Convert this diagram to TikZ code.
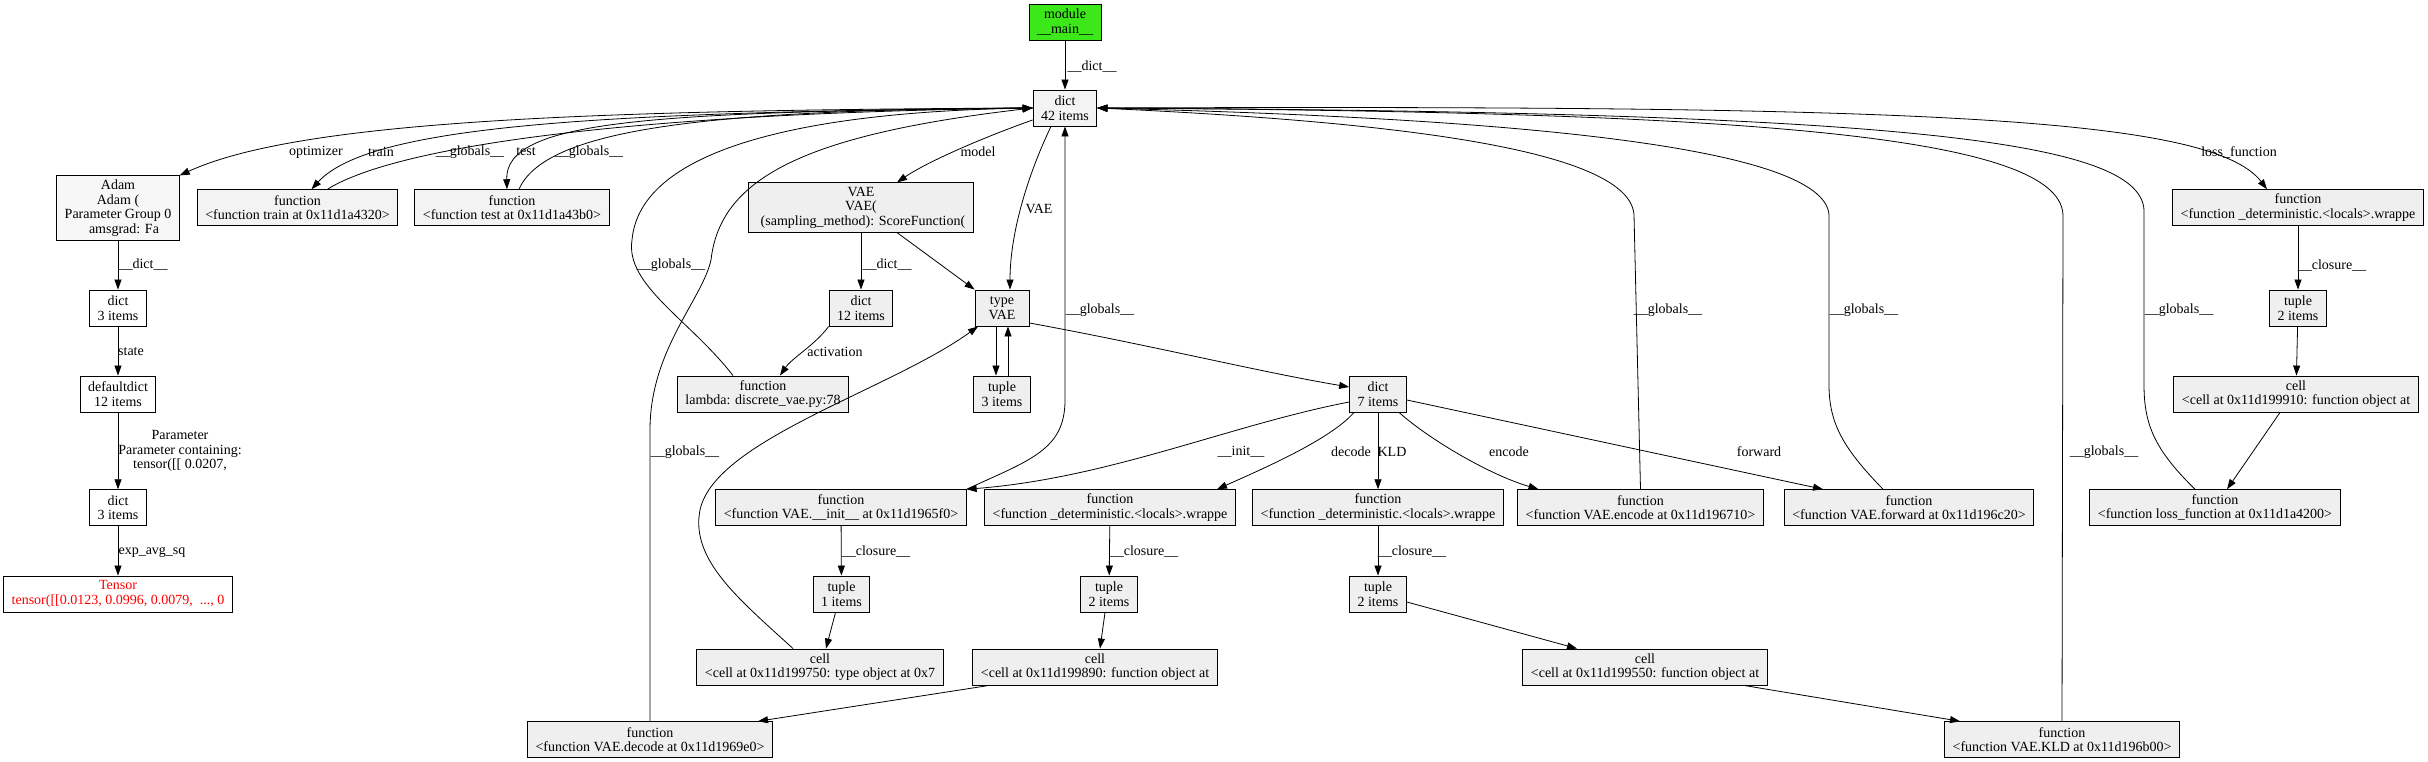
\documentclass[tikz,border=0pt]{standalone}
\usepackage{fontspec}
\setmainfont{Liberation Serif}
\usetikzlibrary{arrows.meta}
\definecolor{gvgreen}{HTML}{3DE81A}
\definecolor{gvred}{HTML}{FF0000}
\definecolor{gvfillA}{HTML}{F7F7F7}
\definecolor{gvfillB}{HTML}{F3F3F3}
\definecolor{gvfillC}{HTML}{EFEFEF}
\newcommand{\gvfont}{\fontsize{14}{14.5}\selectfont}

\begin{document}
\begin{tikzpicture}[x=1pt,y=-1pt,
  obj/.style={draw,line width=0.9pt,fill=gvfillC,font=\gvfont,align=center,
              inner xsep=8pt,inner ysep=4pt,minimum height=36pt,minimum width=54pt},
  lbl/.style={font=\gvfont,align=center,inner sep=1pt},
  gvedge/.style={-{Triangle[length=10pt,width=7pt]},line width=0.8pt}
]
\path[use as bounding box,fill=white] (0,0) rectangle (2428,762);

% ---- Root ---------------------------------------------------
\node[obj,fill=gvgreen] (mainmod) at (1065,22)  {module\\\_\_main\_\_};
\node[obj,fill=gvfillB] (gdict)   at (1065,108) {dict\\42 items};

% ---- Optimizer chain ----------------------------------------
\node[obj,fill=gvfillA] (adam)      at (118,208)   {Adam\\Adam (\\Parameter Group 0\\\hspace*{12pt}amsgrad: Fa};
\node[obj,fill=white]   (adamdict)  at (118,308)   {dict\\3 items};
\node[obj,fill=white]   (statedict) at (118,394)   {defaultdict\\12 items};
\node[obj,fill=white]   (paramdict) at (118,507.7) {dict\\3 items};
\node[obj,fill=white,text=gvred] (sqtensor) at (118,594) {Tensor\\tensor([[0.0123, 0.0996, 0.0079,~ ..., 0};

% ---- Top row ------------------------------------------------
\node[obj,fill=gvfillB] (trainfn)  at (297.5,207.7) {function\\<function train at 0x11d1a4320>};
\node[obj,fill=gvfillB] (testfn)   at (512,207.7)   {function\\<function test at 0x11d1a43b0>};
\node[obj]              (vaeobj)   at (861,207.5)   {VAE\\VAE(\\\hspace*{4pt}(sampling\_method): ScoreFunction(};
\node[obj]              (losswrap) at (2298,207.7)  {function\\<function \_deterministic.<locals>.wrappe};

% ---- Second row ---------------------------------------------
\node[obj] (vaedict)   at (861,308)  {dict\\12 items};
\node[obj] (vaetype)   at (1002,308) {type\\VAE};
\node[obj] (lambdafn)  at (763,394)  {function\\lambda: discrete\_vae.py:78};
\node[obj] (vaetuple)  at (1002,394) {tuple\\3 items};
\node[obj] (clsdict)   at (1378,394) {dict\\7 items};
\node[obj] (losstuple) at (2298,308) {tuple\\2 items};
\node[obj] (losscell)  at (2296,394) {cell\\<cell at 0x11d199910: function object at};

% ---- Method row ---------------------------------------------
\node[obj] (initfn)    at (841,507.7)    {function\\<function VAE.\_\_init\_\_ at 0x11d1965f0>};
\node[obj] (decwrap)   at (1110,507.7)   {function\\<function \_deterministic.<locals>.wrappe};
\node[obj] (kldwrap)   at (1378,507.7)   {function\\<function \_deterministic.<locals>.wrappe};
\node[obj] (encodefn)  at (1640.5,507.7) {function\\<function VAE.encode at 0x11d196710>};
\node[obj] (forwardfn) at (1909,507.7)   {function\\<function VAE.forward at 0x11d196c20>};
\node[obj] (lossfn)    at (2215,507.7)   {function\\<function loss\_function at 0x11d1a4200>};

% ---- Closures -----------------------------------------------
\node[obj] (inittuple) at (841.5,594) {tuple\\1 items};
\node[obj] (dectuple)  at (1109,594)  {tuple\\2 items};
\node[obj] (kldtuple)  at (1378,594)  {tuple\\2 items};
\node[obj] (initcell)  at (820,667)   {cell\\<cell at 0x11d199750: type object at 0x7};
\node[obj] (deccell)   at (1095,667)  {cell\\<cell at 0x11d199890: function object at};
\node[obj] (kldcell)   at (1645,667)  {cell\\<cell at 0x11d199550: function object at};
\node[obj] (decodefn)  at (650,739.7) {function\\<function VAE.decode at 0x11d1969e0>};
\node[obj] (kldfn)     at (2062,739.7) {function\\<function VAE.KLD at 0x11d196b00>};

% Root edge
\draw[gvedge] (mainmod) -- (gdict) node[lbl,at={(1092,67)}] {\_\_dict\_\_};

% Left bundle into the globals dict
\draw[gvedge] (gdict.west) .. controls (600,110) and (300,120) .. (adam.north east)
  node[lbl,at={(316,152)}] {optimizer};
\draw[gvedge] (gdict.west) .. controls (600,112) and (370,125) .. ([xshift=14pt]trainfn.north)
  node[lbl,at={(381,152)}] {train};
\draw[gvedge] ([xshift=30pt]trainfn.north) .. controls (390,150) and (600,114) .. (gdict.west)
  node[lbl,at={(470,152)}] {\_\_globals\_\_};
\draw[gvedge] (gdict.west) .. controls (650,112) and (505,120) .. ([xshift=-5pt]testfn.north)
  node[lbl,at={(526,152)}] {test};
\draw[gvedge] ([xshift=7pt]testfn.north) .. controls (545,130) and (700,110) .. (gdict.west)
  node[lbl,at={(589,152)}] {\_\_globals\_\_};
\draw[gvedge] ([xshift=-30pt]lambdafn.north) .. controls (690,320) and (625,285) .. (632,240)
  .. controls (640,150) and (800,112) .. (gdict.west)
  node[lbl,at={(671,265)}] {\_\_globals\_\_};
\draw[gvedge] (decodefn.north) -- (650,430) .. controls (650,350) and (702,300) .. (711,260)
  .. controls (720,180) and (800,135) .. (gdict.west)
  node[lbl,at={(685,452)}] {\_\_globals\_\_};
\draw[gvedge] ([yshift=-12pt]gdict.west) .. controls (990,135) and (930,160) .. ([xshift=36pt]vaeobj.north)
  node[lbl,at={(978,152)}] {model};
\draw[gvedge] ([xshift=-14pt]gdict.south) .. controls (1030,170) and (1010,230) .. ([xshift=8pt]vaetype.north)
  node[lbl,at={(1039,209)}] {VAE};
\draw[gvedge] (initfn.north east) .. controls (1030,460) and (1065,450) .. (1065,400) -- (gdict.south)
  node[lbl,at={(1100,310)}] {\_\_globals\_\_};

% Right bundle into the globals dict
\draw[gvedge] (encodefn.north) -- (1634,215) .. controls (1630,150) and (1400,122) .. (gdict.east)
  node[lbl,at={(1668,310)}] {\_\_globals\_\_};
\draw[gvedge] ([xshift=-26pt]forwardfn.north) .. controls (1845,450) and (1829,425) .. (1829,385)
  -- (1829,215) .. controls (1825,145) and (1500,118) .. (gdict.east)
  node[lbl,at={(1864,310)}] {\_\_globals\_\_};
\draw[gvedge] ([xshift=-20pt]lossfn.north) .. controls (2155,450) and (2144,425) .. (2144,385)
  -- (2144,210) .. controls (2140,140) and (1900,112) .. (gdict.east)
  node[lbl,at={(2179,310)}] {\_\_globals\_\_};
\draw[gvedge] (kldfn.north) -- (2063,215) .. controls (2060,130) and (1700,112) .. (gdict.east)
  node[lbl,at={(2104,452)}] {\_\_globals\_\_};
\draw[gvedge] (gdict.east) .. controls (1900,105) and (2210,115) .. ([xshift=-31pt]losswrap.north)
  node[lbl,at={(2239,152)}] {loss\_function};

% Model and its class
\draw[gvedge] (vaeobj) -- (vaedict) node[lbl,at={(887,265)}] {\_\_dict\_\_};
\draw[gvedge] ([xshift=36pt]vaeobj.south) -- (vaetype.north west);
\draw[gvedge] (vaedict.south west) .. controls (815,345) and (792,358) .. ([xshift=17pt]lambdafn.north)
  node[lbl,at={(835,352)}] {activation};
\draw[gvedge] ([xshift=-6pt]vaetype.south) -- ([xshift=-6pt]vaetuple.north);
\draw[gvedge] ([xshift=6pt]vaetuple.north) -- ([xshift=6pt]vaetype.south);
\draw[gvedge] ([yshift=-15pt]vaetype.east) .. controls (1150,345) and (1260,372) .. ([yshift=7pt]clsdict.west);

% Class dict to methods
\draw[gvedge] ([yshift=-8pt]clsdict.west) .. controls (1230,425) and (1110,478) .. (initfn.north east)
  node[lbl,at={(1241,452)}] {\_\_init\_\_};
\draw[gvedge] ([xshift=-24pt]clsdict.south) .. controls (1330,440) and (1260,470) .. ([xshift=107pt]decwrap.north)
  node[lbl,at={(1351,452)}] {decode};
\draw[gvedge] (clsdict) -- (kldwrap) node[lbl,at={(1392,452)}] {KLD};
\draw[gvedge] ([xshift=21pt]clsdict.south) .. controls (1430,440) and (1490,475) .. ([xshift=-102pt]encodefn.north)
  node[lbl,at={(1509,452)}] {encode};
\draw[gvedge] ([yshift=-6pt]clsdict.east) -- ([xshift=-86pt]forwardfn.north)
  node[lbl,at={(1759,452)}] {forward};

% Closures
\draw[gvedge] (initfn) -- (inittuple) node[lbl,at={(876,552)}] {\_\_closure\_\_};
\draw[gvedge] ([xshift=-6pt]inittuple.south) -- ([xshift=6pt]initcell.north);
\draw[gvedge] ([xshift=-27pt]initcell.north) .. controls (740,600) and (690,560) .. (700,510)
  .. controls (715,440) and (890,390) .. ([xshift=-24pt]vaetype.south);
\draw[gvedge] (decwrap) -- (dectuple) node[lbl,at={(1144,552)}] {\_\_closure\_\_};
\draw[gvedge] ([xshift=-4pt]dectuple.south) -- ([xshift=5pt]deccell.north);
\draw[gvedge] ([xshift=-106pt]deccell.south) -- ([xshift=108pt]decodefn.north);
\draw[gvedge] (kldwrap) -- (kldtuple) node[lbl,at={(1412,552)}] {\_\_closure\_\_};
\draw[gvedge] ([yshift=-8pt]kldtuple.east) -- ([xshift=-68pt]kldcell.north);
\draw[gvedge] ([xshift=99pt]kldcell.south) -- ([xshift=-102pt]kldfn.north);
\draw[gvedge] (losswrap) -- (losstuple) node[lbl,at={(2332,266)}] {\_\_closure\_\_};
\draw[gvedge] (losstuple) -- (losscell);
\draw[gvedge] ([xshift=-16pt]losscell.south) -- ([xshift=12pt]lossfn.north);

% Optimizer state
\draw[gvedge] (adam) -- (adamdict) node[lbl,at={(143,265)}] {\_\_dict\_\_};
\draw[gvedge] (adamdict) -- (statedict) node[lbl,at={(131,352)}] {state};
\draw[gvedge] (statedict) -- (paramdict)
  node[lbl,at={(180,451)}] {Parameter\\Parameter containing:\\tensor([[ 0.0207,};
\draw[gvedge] (paramdict) -- (sqtensor) node[lbl,at={(152,552)}] {exp\_avg\_sq};

\end{tikzpicture}
\end{document}
